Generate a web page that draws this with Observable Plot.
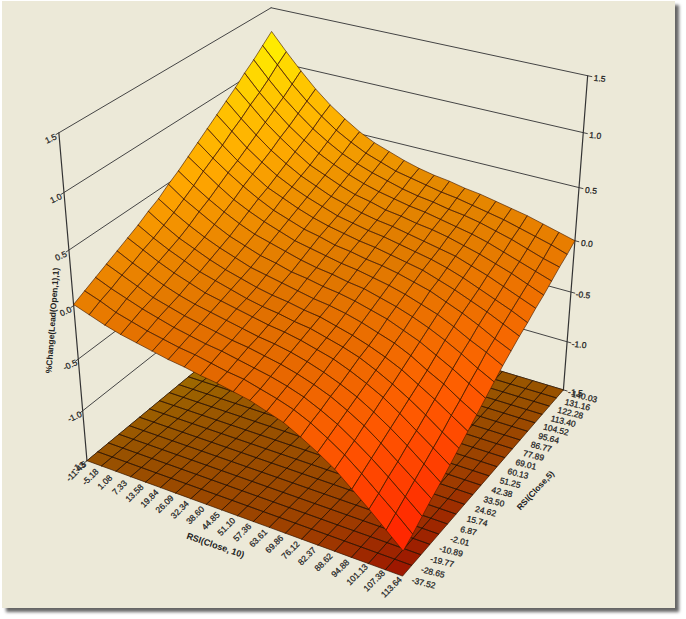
<!DOCTYPE html>
<html><head><meta charset="utf-8">
<script src="https://cdn.jsdelivr.net/npm/d3@7"></script>
<script src="https://cdn.jsdelivr.net/npm/@observablehq/plot@0.6"></script>
<style>
html,body{margin:0;background:#fff;overflow:hidden}
#frame{position:absolute;left:2px;top:1px;width:673px;height:607px;background:#ECE9D8;box-shadow:4px 4px 3px #666}
#chart{position:absolute;left:0;top:0}
svg{background:transparent!important}
</style></head>
<body><div id="frame"></div><div id="chart"></div>
<script>
const xTicks=["-11.43","-5.18","1.08","7.33","13.58","19.84","26.09","32.34","38.60","44.85","51.10","57.36","63.61","69.86","76.12","82.37","88.62","94.88","101.13","107.38","113.64"];
const yTicks=["-37.52","-28.65","-19.77","-10.89","-2.01","6.87","15.74","24.62","33.50","42.38","51.25","60.13","69.01","77.89","86.77","95.64","104.52","113.40","122.28","131.16","140.03"];
const zTicks=[-1.5,-1,-0.5,0,0.5,1,1.5];
const xTitle="RSI(Close, 10)",yTitle="RSI(Close,5)",zTitle="%Change(Lead(Open,1),1)";
// z × 100, rows by RSI(Close,5) ascending, columns by RSI(Close,10) ascending
const surface=[
[1,-4,-9,-13,-16,-19,-22,-24,-27,-29,-32,-35,-40,-45,-53,-62,-72,-85,-98,-112,-126],
[6,1,-5,-9,-13,-16,-19,-21,-24,-27,-29,-33,-37,-42,-49,-58,-68,-80,-93,-106,-120],
[11,5,0,-5,-9,-13,-16,-19,-21,-24,-27,-30,-34,-39,-46,-54,-64,-75,-87,-100,-113],
[16,10,4,-2,-6,-10,-13,-16,-19,-21,-24,-27,-31,-36,-42,-50,-59,-70,-82,-94,-106],
[21,14,8,2,-3,-7,-10,-13,-16,-19,-21,-24,-28,-33,-39,-46,-55,-65,-76,-88,-100],
[26,19,12,6,1,-4,-7,-10,-13,-16,-18,-21,-25,-29,-35,-42,-50,-60,-71,-82,-93],
[31,23,16,10,4,0,-4,-8,-11,-13,-16,-18,-22,-26,-31,-38,-46,-55,-65,-76,-86],
[37,28,20,14,8,3,-1,-5,-8,-10,-13,-15,-19,-23,-28,-34,-41,-50,-59,-69,-79],
[42,33,25,18,12,7,2,-1,-4,-7,-10,-12,-15,-19,-24,-29,-36,-45,-53,-63,-72],
[49,39,31,23,16,11,6,3,-1,-3,-6,-8,-11,-15,-19,-25,-31,-39,-47,-56,-65],
[55,45,36,28,21,15,11,7,3,0,-2,-5,-7,-11,-15,-20,-26,-33,-41,-50,-58],
[62,52,42,33,26,20,15,10,7,4,1,-1,-4,-7,-11,-16,-21,-28,-36,-43,-51],
[69,58,48,39,31,24,19,14,11,7,5,2,0,-3,-7,-11,-17,-23,-30,-38,-45],
[76,64,53,44,35,29,23,18,14,11,8,6,3,0,-3,-8,-13,-19,-25,-32,-39],
[83,71,59,49,40,33,27,22,17,14,11,9,6,3,0,-4,-9,-15,-21,-27,-34],
[90,77,65,54,45,37,31,25,21,17,14,12,9,6,3,0,-5,-10,-16,-22,-28],
[97,84,71,60,50,41,35,29,24,21,17,15,12,10,7,3,-1,-6,-11,-17,-23],
[105,90,77,65,55,46,39,33,28,24,21,18,16,13,10,7,3,-2,-7,-12,-17],
[112,97,83,71,60,51,43,37,32,28,24,21,19,16,14,11,7,3,-2,-7,-11],
[120,105,90,77,66,56,48,41,36,31,28,25,22,20,17,14,11,7,3,-1,-6],
[128,112,97,83,71,61,52,45,40,35,31,28,26,23,21,18,15,12,8,4,0]];

// camera: projective map of (u, v, w) in the unit box
const cam=[280.1257,231.3659,-34.0670,86.4785, 64.6213,-111.1941,-341.3843,460.2062, -0.0882,0.1505,-0.1019];
const wOf=z=>(z+1.5)/3;
function project(u,v,w){const [a,b,p,c,d,e,q,f,g,h,k]=cam;const D=g*u+h*v+k*w+1;return {px:(a*u+b*v+p*w+c)/D,py:(d*u+e*v+q*w+f)/D};}

const n=xTicks.length-1,m=yTicks.length-1;
const surf=[],floor=[];
let id=0;
// back-to-front: low u first, high v first
for(let i=0;i<n;i++)for(let j=m-1;j>=0;j--){
  const zs=[[i,j],[i+1,j],[i+1,j+1],[i,j+1]].map(([a,b])=>surface[b][a]/100);
  const mean=d3.mean(zs);
  const du=((zs[1]-zs[0])+(zs[2]-zs[3]))/2,dv=((zs[3]-zs[0])+(zs[2]-zs[1]))/2;
  const shade=Math.max(0,0.13-1.1*Math.hypot(du,dv));
  [[i,j],[i+1,j],[i+1,j+1],[i,j+1],[i,j]].forEach(([a,b])=>{
    const zv=surface[b][a]/100;
    surf.push({id,mean,shade,...project(a/n,b/m,wOf(zv))});
    floor.push({id,mean,...project(a/n,b/m,0)});
  });
  id++;
}
// wall lines, with small tick overhang at the axis
const walls=[];
zTicks.forEach((z,t)=>{
  [[0,-0.012],[0,1]].forEach(([u,v])=>walls.push({g:"L"+t,...project(u,v,wOf(z))}));
  [[0,1],[1.012,1]].forEach(([u,v])=>walls.push({g:"R"+t,...project(u,v,wOf(z))}));
});
const posts=[];
[[0,0,"a"],[1,1,"b"]].forEach(([u,v,g])=>[-1.5,1.5].forEach(z=>posts.push({g,...project(u,v,wOf(z))})));

const xLab=xTicks.map((text,i)=>({text,...project(i/n,0,0)}));
const yLab=yTicks.map((text,j)=>({text,...project(1,j/m,0)}));
const zL=zTicks.map(z=>({text:z.toFixed(1),...project(0,0,wOf(z))}));
const zR=zTicks.map(z=>({text:z.toFixed(1),...project(1,1,wOf(z))}));

const font="Liberation Sans",ink="#222";
const tick={fontSize:8.5,fill:ink,stroke:ink,strokeWidth:0.25,fontFamily:font};
const grid="#4a1c00";
const chart=Plot.plot({
  width:686,height:619,margin:0,
  x:{domain:[0,686],range:[0,686],axis:null},
  y:{domain:[0,619],range:[0,619],axis:null},
  color:{type:"linear",domain:[-1.25,-0.9,-0.5,0,0.5,0.85,1.2],range:["#ff2000","#ff4000","#ff6400","#f58400","#ffa800","#ffc400","#fff000"],interpolate:"rgb"},
  opacity:{domain:[0,1],range:[0,1]},
  marks:[
    Plot.line(walls,{x:"px",y:"py",z:"g",stroke:"#444",strokeWidth:1}),
    Plot.line(posts,{x:"px",y:"py",z:"g",stroke:"#333",strokeWidth:1.2}),
    Plot.line(floor,{x:"px",y:"py",z:"id",fill:"mean",stroke:"none"}),
    Plot.line(floor,{x:"px",y:"py",z:"id",fill:"black",fillOpacity:0.38,stroke:"#2a1000",strokeOpacity:0.7,strokeWidth:0.9}),
    Plot.line(surf,{x:"px",y:"py",z:"id",fill:"mean",stroke:"none"}),
    Plot.line(surf,{x:"px",y:"py",z:"id",fill:"black",fillOpacity:"shade",stroke:grid,strokeOpacity:0.7,strokeWidth:0.9}),
    Plot.text(xLab,{x:"px",y:"py",text:"text",dx:-11,dy:11,rotate:-45,...tick}),
    Plot.text(yLab,{x:"px",y:"py",text:"text",dx:21,dy:7,rotate:14,...tick}),
    Plot.text(zL,{x:"px",y:"py",text:"text",dx:-8,dy:6,rotate:-25,...tick}),
    Plot.text(zR,{x:"px",y:"py",text:"text",dx:12,dy:3,rotate:6,...tick}),
    Plot.text([xTitle],{x:()=>215,y:()=>545,text:d=>d,rotate:19,fontSize:9,fontWeight:"bold",fill:ink,fontFamily:font}),
    Plot.text([yTitle],{x:()=>535,y:()=>490,text:d=>d,rotate:-47,fontSize:8.5,fontWeight:"bold",fill:ink,fontFamily:font}),
    Plot.text([zTitle],{x:()=>52,y:()=>320,text:d=>d,rotate:-86,fontSize:8.5,fontWeight:"bold",fill:ink,fontFamily:font})
  ]
});
document.getElementById("chart").append(chart);
</script></body></html>
